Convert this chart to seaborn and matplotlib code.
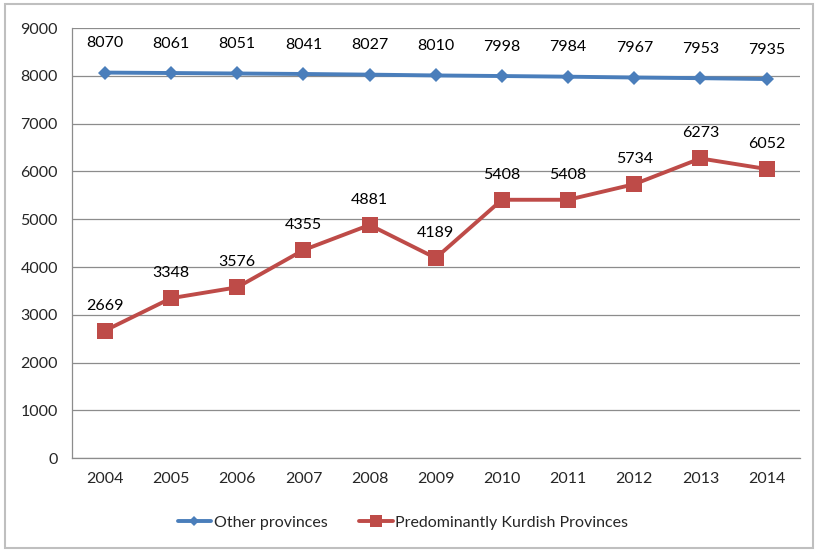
import pandas as pd
import matplotlib
matplotlib.use('Agg')
import matplotlib.pyplot as plt
import seaborn as sns
from matplotlib.patches import Rectangle

years = ['2004', '2005', '2006', '2007', '2008', '2009', '2010', '2011', '2012', '2013', '2014']
other = [8070, 8061, 8051, 8041, 8027, 8010, 7998, 7984, 7967, 7953, 7935]
kurdish = [2669, 3348, 3576, 4355, 4881, 4189, 5408, 5408, 5734, 6273, 6052]
series_names = ['Other provinces', 'Predominantly Kurdish Provinces']

df = pd.DataFrame({'Year': years * 2,
                   'Value': other + kurdish,
                   'Series': [series_names[0]] * len(years) + [series_names[1]] * len(years)})

sns.set_style('white')
plt.rcParams['font.family'] = ['Lato', 'DejaVu Sans']

blue = '#4A7EBB'
red = '#BE4B48'
fs = 11.5

fig = plt.figure(figsize=(8.16, 5.52), dpi=100)
ax = fig.add_axes([0.088, 0.170, 0.892, 0.779])

sns.lineplot(data=df, x='Year', y='Value', hue='Series', style='Series',
             palette=[blue, red], markers=['D', 's'], dashes=False,
             linewidth=2.8, markersize=9, markeredgewidth=0, sort=False, ax=ax)
# bigger square markers for the red series
ax.lines[1].set_markersize(11)
ax.lines[0].set_markersize(7)

for i, v in enumerate(other):
    ax.annotate(str(v), (i, v), xytext=(0, 16), textcoords='offset points',
                ha='center', va='bottom', fontsize=fs, color='black')
for i, v in enumerate(kurdish):
    ax.annotate(str(v), (i, v), xytext=(0, 13), textcoords='offset points',
                ha='center', va='bottom', fontsize=fs, color='black')

ax.set_ylim(0, 9000)
ax.set_xlim(-0.5, len(years) - 0.5)
ax.set_yticks(range(0, 9001, 1000))
ax.yaxis.grid(True, color='#8C8C8C', linewidth=0.9)
ax.set_axisbelow(True)
ax.set_xlabel('')
ax.set_ylabel('')
ax.tick_params(axis='both', labelsize=fs, length=0, pad=10)
for s in ['top', 'right']:
    ax.spines[s].set_visible(False)
for s in ['left', 'bottom']:
    ax.spines[s].set_color('#8C8C8C')
    ax.spines[s].set_linewidth(0.9)

handles, labels = ax.get_legend_handles_labels()
for h in handles:
    h.set_linewidth(2.8)
handles[0].set_markersize(5)
handles[1].set_markersize(8)
ax.legend(handles, labels, loc='center', bbox_to_anchor=(0.455, -0.15), ncol=2,
          frameon=False, fontsize=fs, handlelength=2.1, handletextpad=0.15,
          columnspacing=2.0)

fig.patches.append(Rectangle((5 / 816, 4 / 552), 808 / 816, 544 / 552, transform=fig.transFigure,
                             fill=False, edgecolor='#BFBFBF', linewidth=1.5))

plt.savefig('out.png', dpi=100)
